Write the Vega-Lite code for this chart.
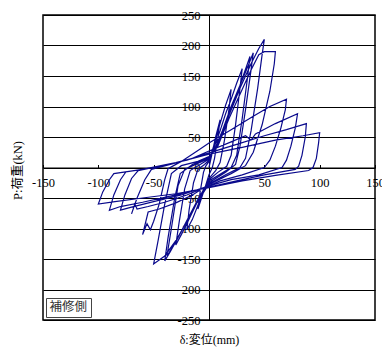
{
  "$schema": "https://vega.github.io/schema/vega-lite/v6.json",
  "width": 332,
  "height": 305,
  "autosize": {"type": "none"},
  "padding": {"left": 43, "top": 15, "right": 7, "bottom": 27},
  "background": "white",
  "config": {"view": {"stroke": "black", "strokeWidth": 1.5}, "font": "Liberation Serif"},
  "data": {"values": [
    {"i":0,"x":0,"y":0},{"i":1,"x":3,"y":25},{"i":2,"x":6,"y":50},{"i":3,"x":10,"y":78},{"i":4,"x":8,"y":50},{"i":5,"x":5,"y":15},{"i":6,"x":3,"y":0},{"i":7,"x":0,"y":-12},{"i":8,"x":-4,"y":-35},{"i":9,"x":-10,"y":-68},
    {"i":10,"x":-8,"y":-40},{"i":11,"x":-5,"y":-8},{"i":12,"x":-3,"y":2},{"i":13,"x":0,"y":10},{"i":14,"x":5,"y":40},{"i":15,"x":10,"y":72},{"i":16,"x":15,"y":102},{"i":17,"x":20,"y":128},{"i":18,"x":18,"y":95},{"i":19,"x":14,"y":45},
    {"i":20,"x":10,"y":8},{"i":21,"x":6,"y":-5},{"i":22,"x":0,"y":-18},{"i":23,"x":-5,"y":-40},{"i":24,"x":-10,"y":-62},{"i":25,"x":-15,"y":-85},{"i":26,"x":-20,"y":-102},{"i":27,"x":-18,"y":-70},{"i":28,"x":-14,"y":-25},{"i":29,"x":-10,"y":-3},
    {"i":30,"x":-4,"y":5},{"i":31,"x":0,"y":12},{"i":32,"x":5,"y":35},{"i":33,"x":10,"y":60},{"i":34,"x":15,"y":88},{"i":35,"x":20,"y":112},{"i":36,"x":25,"y":138},{"i":37,"x":30,"y":162},{"i":38,"x":28,"y":130},{"i":39,"x":24,"y":70},
    {"i":40,"x":20,"y":20},{"i":41,"x":16,"y":2},{"i":42,"x":8,"y":-8},{"i":43,"x":0,"y":-20},{"i":44,"x":-6,"y":-40},{"i":45,"x":-12,"y":-62},{"i":46,"x":-20,"y":-92},{"i":47,"x":-25,"y":-110},{"i":48,"x":-30,"y":-127},{"i":49,"x":-27,"y":-90},
    {"i":50,"x":-22,"y":-35},{"i":51,"x":-17,"y":-5},{"i":52,"x":-8,"y":5},{"i":53,"x":0,"y":14},{"i":54,"x":5,"y":30},{"i":55,"x":12,"y":60},{"i":56,"x":20,"y":100},{"i":57,"x":28,"y":135},{"i":58,"x":35,"y":165},{"i":59,"x":40,"y":188},
    {"i":60,"x":38,"y":160},{"i":61,"x":33,"y":95},{"i":62,"x":28,"y":35},{"i":63,"x":24,"y":5},{"i":64,"x":15,"y":-8},{"i":65,"x":0,"y":-25},{"i":66,"x":-8,"y":-45},{"i":67,"x":-18,"y":-80},{"i":68,"x":-28,"y":-115},{"i":69,"x":-35,"y":-138},
    {"i":70,"x":-40,"y":-153},{"i":71,"x":-37,"y":-115},{"i":72,"x":-31,"y":-50},{"i":73,"x":-26,"y":-10},{"i":74,"x":-15,"y":5},{"i":75,"x":0,"y":16},{"i":76,"x":8,"y":40},{"i":77,"x":18,"y":90},{"i":78,"x":28,"y":135},{"i":79,"x":37,"y":182},
    {"i":80,"x":35,"y":150},{"i":81,"x":30,"y":80},{"i":82,"x":25,"y":20},{"i":83,"x":20,"y":0},{"i":84,"x":0,"y":-22},{"i":85,"x":-15,"y":-70},{"i":86,"x":-30,"y":-122},{"i":87,"x":-38,"y":-145},{"i":88,"x":-34,"y":-100},{"i":89,"x":-28,"y":-30},
    {"i":90,"x":-22,"y":-3},{"i":91,"x":0,"y":15},{"i":92,"x":8,"y":38},{"i":93,"x":18,"y":85},{"i":94,"x":28,"y":130},{"i":95,"x":38,"y":170},{"i":96,"x":45,"y":195},{"i":97,"x":50,"y":210},{"i":98,"x":48,"y":185},{"i":99,"x":44,"y":130},
    {"i":100,"x":38,"y":60},{"i":101,"x":33,"y":15},{"i":102,"x":28,"y":0},{"i":103,"x":15,"y":-12},{"i":104,"x":0,"y":-27},{"i":105,"x":-10,"y":-55},{"i":106,"x":-20,"y":-88},{"i":107,"x":-30,"y":-120},{"i":108,"x":-40,"y":-145},{"i":109,"x":-50,"y":-158},
    {"i":110,"x":-46,"y":-120},{"i":111,"x":-40,"y":-60},{"i":112,"x":-34,"y":-10},{"i":113,"x":-25,"y":3},{"i":114,"x":-10,"y":10},{"i":115,"x":0,"y":18},{"i":116,"x":8,"y":35},{"i":117,"x":18,"y":80},{"i":118,"x":28,"y":120},{"i":119,"x":38,"y":160},
    {"i":120,"x":45,"y":185},{"i":121,"x":50,"y":190},{"i":122,"x":60,"y":190},{"i":123,"x":59,"y":170},{"i":124,"x":55,"y":125},{"i":125,"x":48,"y":70},{"i":126,"x":40,"y":25},{"i":127,"x":33,"y":3},{"i":128,"x":20,"y":-10},{"i":129,"x":0,"y":-28},
    {"i":130,"x":-15,"y":-45},{"i":131,"x":-30,"y":-58},{"i":132,"x":-45,"y":-68},{"i":133,"x":-55,"y":-73},{"i":134,"x":-60,"y":-110},{"i":135,"x":-56,"y":-92},{"i":136,"x":-53,"y":-102},{"i":137,"x":-50,"y":-88},{"i":138,"x":-45,"y":-60},{"i":139,"x":-40,"y":-20},
    {"i":140,"x":-37,"y":-2},{"i":141,"x":-25,"y":10},{"i":142,"x":-10,"y":28},{"i":143,"x":0,"y":40},{"i":144,"x":20,"y":62},{"i":145,"x":40,"y":84},{"i":146,"x":55,"y":100},{"i":147,"x":70,"y":112},{"i":148,"x":69,"y":95},{"i":149,"x":65,"y":65},
    {"i":150,"x":60,"y":35},{"i":151,"x":55,"y":12},{"i":152,"x":50,"y":0},{"i":153,"x":30,"y":-12},{"i":154,"x":10,"y":-22},{"i":155,"x":0,"y":-30},{"i":156,"x":-20,"y":-45},{"i":157,"x":-40,"y":-57},{"i":158,"x":-55,"y":-64},{"i":159,"x":-65,"y":-68},
    {"i":160,"x":-67,"y":-60},{"i":161,"x":-70,"y":-76},{"i":162,"x":-65,"y":-50},{"i":163,"x":-58,"y":-20},{"i":164,"x":-52,"y":-3},{"i":165,"x":-35,"y":5},{"i":166,"x":-15,"y":15},{"i":167,"x":0,"y":27},{"i":168,"x":20,"y":42},{"i":169,"x":33,"y":52},
    {"i":170,"x":38,"y":45},{"i":171,"x":42,"y":55},{"i":172,"x":60,"y":72},{"i":173,"x":80,"y":88},{"i":174,"x":78,"y":65},{"i":175,"x":74,"y":35},{"i":176,"x":70,"y":12},{"i":177,"x":66,"y":0},{"i":178,"x":45,"y":-12},{"i":179,"x":20,"y":-20},
    {"i":180,"x":0,"y":-30},{"i":181,"x":-25,"y":-45},{"i":182,"x":-50,"y":-56},{"i":183,"x":-70,"y":-65},{"i":184,"x":-80,"y":-70},{"i":185,"x":-76,"y":-45},{"i":186,"x":-70,"y":-18},{"i":187,"x":-64,"y":-5},{"i":188,"x":-45,"y":2},{"i":189,"x":-20,"y":12},
    {"i":190,"x":0,"y":24},{"i":191,"x":25,"y":38},{"i":192,"x":50,"y":52},{"i":193,"x":70,"y":62},{"i":194,"x":88,"y":72},{"i":195,"x":87,"y":50},{"i":196,"x":84,"y":20},{"i":197,"x":81,"y":2},{"i":198,"x":78,"y":-3},{"i":199,"x":50,"y":-12},
    {"i":200,"x":25,"y":-22},{"i":201,"x":0,"y":-32},{"i":202,"x":-30,"y":-45},{"i":203,"x":-60,"y":-57},{"i":204,"x":-80,"y":-64},{"i":205,"x":-90,"y":-70},{"i":206,"x":-86,"y":-45},{"i":207,"x":-80,"y":-20},{"i":208,"x":-75,"y":-7},{"i":209,"x":-50,"y":0},
    {"i":210,"x":-25,"y":10},{"i":211,"x":0,"y":22},{"i":212,"x":30,"y":33},{"i":213,"x":60,"y":45},{"i":214,"x":85,"y":52},{"i":215,"x":100,"y":57},{"i":216,"x":99,"y":40},{"i":217,"x":97,"y":15},{"i":218,"x":94,"y":0},{"i":219,"x":90,"y":-5},
    {"i":220,"x":60,"y":-13},{"i":221,"x":30,"y":-22},{"i":222,"x":0,"y":-33},{"i":223,"x":-30,"y":-43},{"i":224,"x":-60,"y":-50},{"i":225,"x":-85,"y":-56},{"i":226,"x":-100,"y":-60},{"i":227,"x":-96,"y":-40},{"i":228,"x":-90,"y":-20},{"i":229,"x":-86,"y":-10},
    {"i":230,"x":-60,"y":-3},{"i":231,"x":-30,"y":8},{"i":232,"x":0,"y":22}
  ]},
  "mark": {"type": "line", "strokeWidth": 1.2, "clip": true},
  "encoding": {
    "x": {
      "field": "x", "type": "quantitative",
      "scale": {"domain": [-150, 150], "nice": false, "zero": false},
      "axis": {
        "values": [-150, -100, -50, 0, 50, 100, 150],
        "offset": -152.5, "grid": false,
        "domainColor": "black", "domainWidth": 1,
        "ticks": true, "tickSize": -3, "tickColor": "black",
        "labelPadding": 12, "labelFontSize": 12.5, "labelColor": "black", "labelFont": "Liberation Serif",
        "labelExpr": "'' + datum.value", "labelFlush": false, "labelOverlap": false,
        "title": "δ:変位(mm)", "titleX": 166, "titleY": 172, "titleBaseline": "middle", "titleAlign": "center",
        "titleFontWeight": "normal", "titleFontSize": 12, "titleColor": "black", "titleFont": "Liberation Serif, Noto Sans CJK JP"
      }
    },
    "y": {
      "field": "y", "type": "quantitative",
      "scale": {"domain": [-250, 250], "nice": false, "zero": false},
      "axis": {
        "values": [-250, -200, -150, -100, -50, 0, 50, 100, 150, 200, 250],
        "offset": -166, "grid": true, "gridColor": "black", "gridOpacity": 1, "gridWidth": 1,
        "domainColor": "black", "domainWidth": 1, "ticks": false,
        "labelPadding": 9, "labelFontSize": 12.5, "labelColor": "black", "labelFont": "Liberation Serif",
        "labelExpr": "'' + datum.value", "labelFlush": false, "labelOverlap": false,
        "title": "P:荷重(kN)", "titleX": -192, "titleY": 155, "titleAngle": -90, "titleBaseline": "middle", "titleAlign": "center",
        "titleFontWeight": "normal", "titleFontSize": 12.5, "titleColor": "black", "titleFont": "Liberation Serif, Noto Sans CJK JP"
      }
    },
    "order": {"field": "i", "type": "quantitative"},
    "color": {
      "datum": "補修側",
      "scale": {"range": ["#0a0a8c"]},
      "legend": {
        "orient": "bottom-left", "offset": 3, "title": null,
        "strokeColor": "#444", "fillColor": "white", "padding": 3,
        "symbolType": "circle", "symbolSize": 0, "symbolStrokeWidth": 0, "symbolOpacity": 0, "labelOffset": -12,
        "labelFont": "Noto Sans CJK JP", "labelFontSize": 12.5, "labelColor": "#333"
      }
    }
  }
}
